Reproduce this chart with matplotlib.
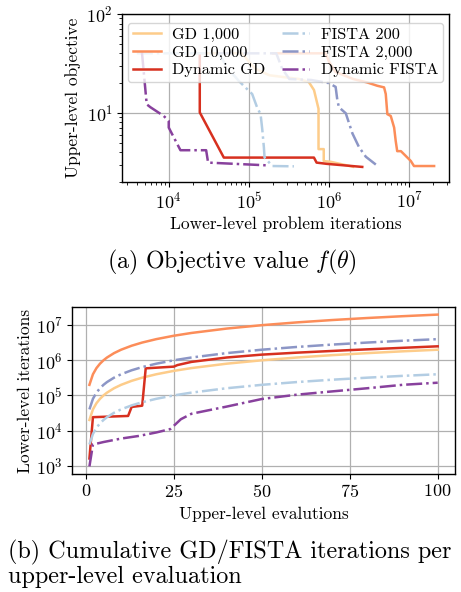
import matplotlib
matplotlib.use("Agg")
import matplotlib.pyplot as plt
from matplotlib.ticker import NullFormatter, LogLocator

plt.rcParams['font.family'] = 'serif'
plt.rcParams['font.serif'] = ['cmr10', 'DejaVu Serif']
plt.rcParams['mathtext.fontset'] = 'cm'
plt.rcParams['axes.formatter.use_mathtext'] = True
plt.rcParams['axes.unicode_minus'] = False

# ---------------- data ----------------
labels = ["GD 1,000", "GD 10,000", "Dynamic GD", "FISTA 200", "FISTA 2,000", "Dynamic FISTA"]
colors = ["#fdcc8a", "#fc8d59", "#d7301f", "#b3cde3", "#8c96c6", "#88419d"]
styles = ["-", "-", "-", "-.", "-.", "-."]

# (a) objective vs cumulative lower-level iterations
gd1k_x = [2.37e4, 8.2e4, 1.0e5, 1.2e5, 1.8e5, 4.2e5, 5.6e5, 6.5e5, 7.4e5, 7.4e5, 8.6e5, 8.6e5, 1.05e6, 2.0e6]
gd1k_y = [40, 40, 33, 28, 24, 22, 20.5, 17, 11, 4.3, 4.3, 3.25, 3.2, 2.85]
gd10k_x = [2.0e5, 9.1e5, 1.0e6, 1.2e6, 2.0e6, 3.0e6, 4.0e6, 4.87e6, 5.11e6, 5.35e6, 5.9e6, 6.5e6, 6.8e6,
           7.1e6, 7.9e6, 9.1e6, 1.05e7, 1.15e7, 2.05e7]
gd10k_y = [40, 40, 33, 26, 22, 20.3, 18.8, 18.1, 15.5, 9.7, 9.3, 7.1, 5.2, 4.1, 4.1, 3.66, 3.26, 2.9, 2.9]
dgd_x = [2.44e4, 2.44e4, 4.87e4, 6.49e5, 7.0e5, 9.4e5, 2.6e6]
dgd_y = [40, 10.1, 3.53, 3.53, 3.14, 3.05, 2.84]
f200_x = [4.0e3, 4.2e4, 5.5e4, 7.5e4, 9.5e4, 1.1e5, 1.27e5, 1.4e5, 1.47e5, 1.54e5, 1.57e5, 1.7e5, 1.96e5, 3.65e5]
f200_y = [40, 40, 28, 21, 17.4, 15.5, 11.3, 9.7, 6.8, 4.47, 3.53, 3.3, 2.9, 2.88]
f2k_x = [4.0e4, 2.2e5, 2.6e5, 3.2e5, 6.0e5, 1.0e6, 1.21e6, 1.27e6, 1.33e6, 1.62e6, 1.96e6, 2.37e6, 2.88e6, 3.84e6]
f2k_y = [40, 40, 28, 22, 21.5, 20, 18.3, 13.5, 11.4, 9.9, 6.2, 4.5, 3.6, 3.0]
dfista_x = [4.63e3, 5.31e3, 5.91e3, 8.66e3, 1.0e4, 1.0e4, 1.4e4, 2.93e4, 3.1e4, 1.63e5]
dfista_y = [41, 12.2, 11.4, 9.3, 8.3, 7.1, 4.19, 4.19, 3.14, 2.95]

# (b) cumulative lower-level iterations vs upper-level evaluations
k_std = [1, 2, 3, 4, 5, 6, 8, 10, 13, 16, 20, 25, 30, 40, 50, 60, 70, 80, 90, 100]
gd1k_cum = [2e4, 4e4, 6e4, 8e4, 1e5, 1.2e5, 1.6e5, 2e5, 2.6e5, 3.2e5, 4e5, 5e5, 6e5, 8e5, 1e6,
            1.2e6, 1.4e6, 1.6e6, 1.8e6, 2e6]
gd10k_cum = [2e5, 4e5, 6e5, 8e5, 1e6, 1.2e6, 1.6e6, 2e6, 2.6e6, 3.2e6, 4e6, 5e6, 6e6, 8e6, 1e7,
             1.2e7, 1.4e7, 1.6e7, 1.8e7, 2e7]
f200_cum = [4e3, 8e3, 1.2e4, 1.6e4, 2e4, 2.4e4, 3.2e4, 4e4, 5.2e4, 6.4e4, 8e4, 1e5, 1.2e5, 1.6e5, 2e5,
            2.4e5, 2.8e5, 3.2e5, 3.6e5, 4e5]
f2k_cum = [4e4, 8e4, 1.2e5, 1.6e5, 2e5, 2.4e5, 3.2e5, 4e5, 5.2e5, 6.4e5, 8e5, 1e6, 1.2e6, 1.6e6, 2e6,
           2.4e6, 2.8e6, 3.2e6, 3.6e6, 4e6]
k_dgd = [1, 2, 12, 13, 16, 17, 25, 26, 30, 40, 50, 60, 75, 100]
dgd_cum = [1.6e3, 2.4e4, 2.6e4, 4.7e4, 5.1e4, 5.9e5, 6.6e5, 7.3e5, 9.0e5, 1.2e6, 1.45e6, 1.65e6, 1.95e6, 2.5e6]
k_df = [1, 2, 5, 10, 15, 20, 24, 27, 30, 35, 40, 50, 60, 70, 80, 90, 100]
dfista_cum = [950, 4000, 4700, 5900, 7000, 8800, 1.1e4, 2.1e4, 3.0e4, 3.8e4, 4.8e4, 7.9e4, 1.05e5,
              1.3e5, 1.6e5, 2.0e5, 2.3e5]

# ---------------- figure ----------------
fig = plt.figure(figsize=(4.61, 5.92), dpi=100)
ax1 = fig.add_axes([0.2646, 0.6926, 0.7093, 0.2838])
ax2 = fig.add_axes([0.1562, 0.1993, 0.8310, 0.2821])

lw = 1.8
top_x = [gd1k_x, gd10k_x, dgd_x, f200_x, f2k_x, dfista_x]
top_y = [gd1k_y, gd10k_y, dgd_y, f200_y, f2k_y, dfista_y]
for x, y, c, s, lab in zip(top_x, top_y, colors, styles, labels):
    ax1.plot(x, y, color=c, ls=s, lw=lw, label=lab)

bot_x = [k_std, k_std, k_dgd, k_std, k_std, k_df]
bot_y = [gd1k_cum, gd10k_cum, dgd_cum, f200_cum, f2k_cum, dfista_cum]
for i in range(6):
    ax2.plot(bot_x[i], bot_y[i], color=colors[i], ls=styles[i], lw=lw, label=labels[i])

for ax in (ax1, ax2):
    ax.set_yscale('log')
    ax.grid(True, which='major', color='#b0b0b0', lw=0.9)
    ax.set_axisbelow(True)
    ax.yaxis.set_minor_formatter(NullFormatter())
    ax.tick_params(labelsize=13, pad=3)
    for sp in ax.spines.values():
        sp.set_linewidth(1.0)

ax1.set_xscale('log')
ax1.xaxis.set_minor_formatter(NullFormatter())
ax1.set_ylim(2, 100)
ax1.set_xlabel("Lower-level problem iterations", fontsize=12.5, labelpad=3)
ax1.set_ylabel("Upper-level objective", fontsize=12.5, labelpad=4)
ax1.legend(ncol=2, loc='upper center', fontsize=11.7, handlelength=1.7,
           columnspacing=1.0, borderaxespad=0.55, labelspacing=0.2, framealpha=0.8,
           borderpad=0.3, handletextpad=0.7)

ax2.set_xticks([0, 25, 50, 75, 100])
ax2.yaxis.set_major_locator(LogLocator(base=10, numticks=20))
ax2.set_xlabel("Upper-level evalutions", fontsize=12.5, labelpad=5)
ax2.set_ylabel("Lower-level iterations", fontsize=12.5, labelpad=2)

fig.text(0.503, 1 - 262 / 592, r"(a) Objective value $f(\theta)$", ha='center', va='center', fontsize=17.2)
fig.text(0.017, 1 - 552 / 592, "(b) Cumulative GD/FISTA iterations per", ha='left', va='center', fontsize=17.4)
fig.text(0.017, 1 - 577 / 592, "upper-level evaluation", ha='left', va='center', fontsize=17.4)

fig.savefig("out.png", dpi=100)
